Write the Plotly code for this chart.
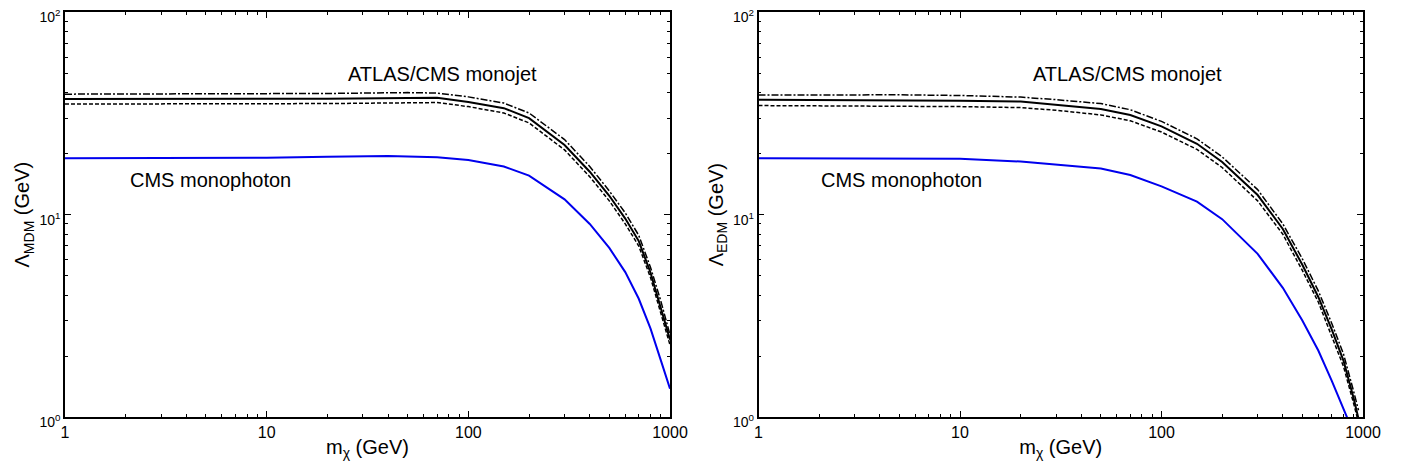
import plotly.graph_objects as go

# ---------------- data ----------------
# Left panel: magnetic dipole (MDM)
m_mdm_jet = [1, 10, 20, 50, 70, 100, 150, 200, 300, 400, 500, 600, 700, 800, 900, 1000]
mdm_jet_central = [37.3, 37.2, 37.4, 37.7, 37.8, 36.0, 33.6, 30.0, 22.1, 16.3, 12.4, 9.56, 7.4, 5.18, 3.5, 2.41]
mdm_jet_upper = [39.4, 39.5, 39.7, 40.1, 39.9, 38.2, 35.6, 31.8, 23.5, 17.3, 13.1, 10.2, 7.9, 5.5, 3.75, 2.55]
mdm_jet_lower = [35.2, 35.2, 35.4, 35.7, 35.8, 34.2, 31.8, 28.4, 20.9, 15.4, 11.7, 9.0, 7.0, 4.9, 3.3, 2.27]

m_mdm_pho = [1, 10, 20, 40, 70, 100, 150, 200, 300, 400, 500, 600, 700, 800, 900, 1000]
mdm_pho = [19.0, 19.1, 19.3, 19.5, 19.2, 18.6, 17.3, 15.6, 11.9, 9.0, 6.85, 5.2, 3.84, 2.74, 1.91, 1.38]

# Right panel: electric dipole (EDM)
m_edm_jet = [1, 5, 10, 20, 30, 50, 70, 100, 150, 200, 300, 400, 500, 600, 700, 800, 900, 950]
edm_jet_central = [37.0, 36.9, 36.6, 36.2, 35.0, 33.3, 31.1, 27.3, 22.4, 18.2, 12.5, 8.5, 5.65, 3.92, 2.70, 1.90, 1.23, 0.98]
edm_jet_upper = [39.0, 39.1, 38.8, 38.1, 37.0, 35.4, 33.0, 28.9, 23.7, 19.3, 13.3, 9.0, 6.05, 4.2, 2.9, 2.05, 1.33, 1.08]
edm_jet_lower = [34.6, 34.4, 34.2, 33.8, 32.8, 31.1, 29.1, 25.6, 21.0, 17.1, 11.7, 8.0, 5.3, 3.7, 2.53, 1.78, 1.16, 0.94]

m_edm_pho = [1, 10, 20, 30, 50, 70, 100, 150, 200, 300, 400, 500, 600, 700, 800, 850]
edm_pho = [19.0, 18.9, 18.3, 17.7, 16.9, 15.7, 13.8, 11.6, 9.5, 6.4, 4.35, 3.0, 2.13, 1.51, 1.09, 0.95]

x_tickvals = [1, 10, 100, 1000]
x_ticktext = ["1", "10", "100", "1000"]
y_tickvals = [1, 10, 100]
y_ticktext = ["10<sup>0</sup>", "10<sup>1</sup>", "10<sup>2</sup>"]

FONT = "Liberation Sans, Arial, sans-serif"
OFF = 8                      # default page body margin
W, H = 1402 - 2 * OFF, 471 - 2 * OFF

fig = go.Figure()

def add_panel(xa, ya, m_jet, c, up, lo, m_pho, pho):
    fig.add_trace(go.Scatter(x=m_jet, y=up, mode="lines", xaxis=xa, yaxis=ya,
                             line=dict(color="black", width=1.5, dash="7px,2px,2px,2px"),
                             showlegend=False))
    fig.add_trace(go.Scatter(x=m_jet, y=c, mode="lines", xaxis=xa, yaxis=ya,
                             line=dict(color="black", width=2),
                             showlegend=False))
    fig.add_trace(go.Scatter(x=m_jet, y=lo, mode="lines", xaxis=xa, yaxis=ya,
                             line=dict(color="black", width=1.5, dash="4px,2px"),
                             showlegend=False))
    fig.add_trace(go.Scatter(x=m_pho, y=pho, mode="lines", xaxis=xa, yaxis=ya,
                             line=dict(color="#0000ee", width=2),
                             showlegend=False))

add_panel("x", "y", m_mdm_jet, mdm_jet_central, mdm_jet_upper, mdm_jet_lower, m_mdm_pho, mdm_pho)
add_panel("x2", "y2", m_edm_jet, edm_jet_central, edm_jet_upper, edm_jet_lower, m_edm_pho, edm_pho)

def px_x(p):
    return (p - OFF) / W

def px_y(p):
    return (H - (p - OFF)) / H

ydom = [px_y(417.0), px_y(12.3)]

def xaxis(dom, anchor):
    return dict(type="log", range=[0, 3], domain=dom, anchor=anchor,
                tickvals=x_tickvals, ticktext=x_ticktext,
                ticks="inside", ticklen=6, tickwidth=1, tickcolor="black",
                minor=dict(ticks="inside", ticklen=3, tickcolor="black", dtick="D1", showgrid=False),
                showline=True, linecolor="black", linewidth=1.5, mirror="allticks",
                showgrid=False, zeroline=False,
                tickfont=dict(family=FONT, size=16, color="black"),
                title=dict(text="m<sub>χ</sub> (GeV)", standoff=0,
                           font=dict(family=FONT, size=20, color="black")),
                automargin=False)

def yaxis(anchor, title):
    return dict(type="log", range=[0, 2], domain=ydom, anchor=anchor,
                tickvals=y_tickvals, ticktext=y_ticktext,
                ticks="inside", ticklen=6, tickwidth=1, tickcolor="black",
                minor=dict(ticks="inside", ticklen=3, tickcolor="black", dtick="D1", showgrid=False),
                showline=True, linecolor="black", linewidth=1.5, mirror="allticks",
                showgrid=False, zeroline=False, ticklabeloverflow="allow",
                ticklabelshift=5,
                tickfont=dict(family=FONT, size=14, color="black"),
                title=dict(text=title, standoff=4,
                           font=dict(family=FONT, size=20, color="black")),
                automargin=False)

xl = [px_x(65.0), px_x(670.0)]
xr = [px_x(758.5), px_x(1363.0)]

fig.update_layout(
    width=W, height=H,
    margin=dict(l=0, r=0, t=0, b=0),
    paper_bgcolor="white", plot_bgcolor="white",
    font=dict(family=FONT, color="black"),
    xaxis=xaxis(xl, "y"),
    yaxis=yaxis("x", "Λ<sub>MDM</sub> (GeV)"),
    xaxis2=xaxis(xr, "y2"),
    yaxis2=yaxis("x2", "Λ<sub>EDM</sub> (GeV)"),
)

ann_font = dict(family=FONT, size=20, color="black")
# annotation positions on log axes are given in log10 units
fig.add_annotation(x=1.871, y=1.695, xref="x", yref="y", text="ATLAS/CMS monojet",
                   showarrow=False, font=ann_font, xanchor="center", yanchor="middle")
fig.add_annotation(x=0.721, y=1.172, xref="x", yref="y", text="CMS monophoton",
                   showarrow=False, font=ann_font, xanchor="center", yanchor="middle")
fig.add_annotation(x=1.833, y=1.695, xref="x2", yref="y2", text="ATLAS/CMS monojet",
                   showarrow=False, font=ann_font, xanchor="center", yanchor="middle")
fig.add_annotation(x=0.712, y=1.172, xref="x2", yref="y2", text="CMS monophoton",
                   showarrow=False, font=ann_font, xanchor="center", yanchor="middle")

fig.write_html("out.html")
